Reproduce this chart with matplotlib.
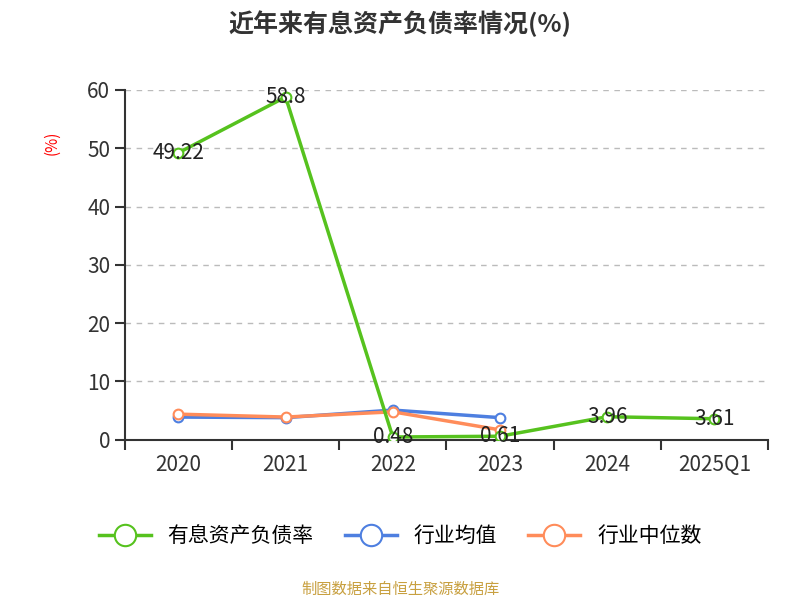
import matplotlib
matplotlib.use('Agg')
import matplotlib.pyplot as plt
import numpy as np

plt.rcParams['font.family'] = 'sans-serif'
plt.rcParams['font.sans-serif'] = ['Noto Sans CJK SC', 'Noto Sans CJK JP', 'Noto Sans CJK TC',
                                   'Noto Sans CJK KR', 'DejaVu Sans']

years = ['2020', '2021', '2022', '2023', '2024', '2025Q1']
debt_ratio = [49.22, 58.8, 0.48, 0.61, 3.96, 3.61]
industry_mean = [3.9, 3.8, 5.1, 3.8]
industry_median = [4.4, 3.9, 4.8, 1.7]

fig = plt.figure(figsize=(8, 6), dpi=100)
ax = fig.add_axes([0.156, 0.267, 0.804, 0.583])
x = np.arange(len(years))

ax.plot(x[:4], industry_mean, color='#4e7fe0', lw=2.5, marker='o', ms=7,
        mfc='white', mec='#4e7fe0', mew=1.5, label='行业均值', zorder=3)
ax.plot(x[:4], industry_median, color='#ff8c5a', lw=2.5, marker='o', ms=7,
        mfc='white', mec='#ff8c5a', mew=1.5, label='行业中位数', zorder=3)
ax.plot(x, debt_ratio, color='#56c21e', lw=2.5, marker='o', ms=7,
        mfc='white', mec='#56c21e', mew=1.5, label='有息资产负债率', zorder=4)
for xi, v in zip(x, debt_ratio):
    ax.text(xi, v, f'{v:g}', ha='center', va='center', fontsize=15, color='#222222', zorder=5)

ax.set_xlim(-0.5, len(years) - 0.5)
ax.set_ylim(0, 60)
ax.set_yticks(range(0, 61, 10))
ax.set_xticks(x)
ax.set_xticklabels(years)
ax.set_xticks(np.arange(-0.5, len(years), 1), minor=True)
ax.tick_params(axis='x', which='major', length=0, labelsize=15, colors='#333333', pad=10)
ax.tick_params(axis='x', which='minor', length=7, width=1.5, color='#333333')
ax.tick_params(axis='y', length=7, width=1.5, labelsize=15, colors='#333333')
ax.grid(axis='y', ls=(0, (4, 4)), color='#bbbbbb', lw=1)
for s in ['top', 'right']:
    ax.spines[s].set_visible(False)
for s in ['left', 'bottom']:
    ax.spines[s].set_linewidth(1.5)
    ax.spines[s].set_color('#333333')
ax.set_ylabel('(%)', color='red', fontsize=11)
ax.yaxis.set_label_coords(-0.1, 0.85)

fig.text(0.5, 0.96, '近年来有息资产负债率情况(%)', ha='center', va='center',
         fontsize=18, fontweight='bold', color='#333333')
handles, labels = ax.get_legend_handles_labels()
order = [2, 0, 1]
fig.legend([handles[i] for i in order], [labels[i] for i in order], loc='center',
           bbox_to_anchor=(0.5, 0.107), ncol=3, frameon=False, fontsize=15,
           handlelength=2.5, markerscale=2.2, columnspacing=1.5)
fig.text(0.5, 0.018, '制图数据来自恒生聚源数据库', ha='center', va='center',
         fontsize=11, color='#c8a040')

fig.savefig('out.png', dpi=100)
